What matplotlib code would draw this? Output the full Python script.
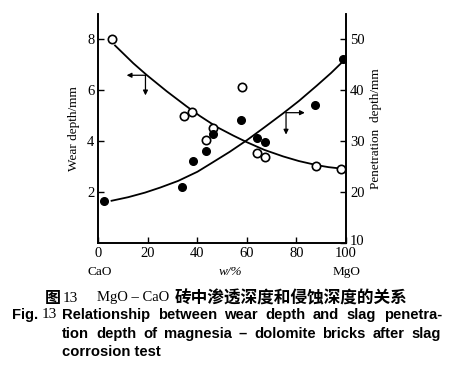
import matplotlib
matplotlib.use("Agg")
import matplotlib.pyplot as plt
import matplotlib.transforms as mtransforms

# ---- data ----
x_ticks = [0, 20, 40, 60, 80, 100]
wear_ticks = [2, 4, 6, 8]
pen_ticks = [10, 20, 30, 40, 50]

# open circles: wear depth (left axis)
wear_x = [5.3, 34.4, 37.9, 43.4, 46.1, 57.9, 63.9, 67.3, 87.8, 98.0]
wear_y = [8.0, 4.99, 5.13, 4.04, 4.52, 6.13, 3.54, 3.37, 3.02, 2.90]
# trend curve (left axis)
wear_curve_x = [6.7, 14.1, 19.5, 27.6, 35.6, 41, 47.8, 54.5, 60, 67, 74.7, 81, 88.2, 93, 97.6]
wear_curve_y = [7.76, 7.06, 6.60, 5.96, 5.37, 4.99, 4.56, 4.22, 3.96, 3.66, 3.40, 3.22, 3.06, 2.98, 2.93]

# filled circles: penetration depth (right axis)
pen_x = [2.4, 33.6, 38.1, 43.4, 46.4, 57.7, 64.2, 67.4, 87.5, 98.9]
pen_y = [18.3, 21.1, 26.1, 28.1, 31.4, 34.1, 30.7, 29.8, 37.1, 46.1]
pen_curve_x = [5.3, 12, 18.8, 25, 32.2, 40, 45.7, 53, 60, 67, 74.7, 81, 88.2, 94, 99.3]
pen_curve_y = [18.3, 19.0, 19.9, 20.9, 22.2, 24.0, 25.7, 27.9, 30.2, 32.7, 35.5, 37.9, 40.9, 43.4, 45.9]

serif = "Liberation Serif"
sans = "Liberation Sans"
cjk = ["Noto Sans CJK SC", "DejaVu Sans"]

W, H = 460, 366
fig = plt.figure(figsize=(4.6, 3.66), dpi=100)
ax = fig.add_axes([0.214, 0.336, 0.538, 0.626])
ax2 = ax.twinx()

ax.set_xlim(0, 100)
ax.set_ylim(0, 9)
ax2.set_ylim(10, 55)

ax.plot(wear_curve_x, wear_curve_y, color="black", lw=1.3, zorder=2)
ax.plot(wear_x, wear_y, "o", mfc="white", mec="black", mew=1.2, ms=6, zorder=3)
ax2.plot(pen_curve_x, pen_curve_y, color="black", lw=1.3, zorder=2)
ax2.plot(pen_x, pen_y, "o", color="black", ms=5.5, zorder=3)

# arrows
ak = dict(arrowstyle="-|>", color="black", lw=0.9, mutation_scale=7, shrinkA=0, shrinkB=0)
ax.annotate("", xy=(11.4, 6.59), xytext=(19, 6.59), arrowprops=ak)
ax.annotate("", xy=(19, 5.8), xytext=(19, 6.59), arrowprops=ak)
ax2.annotate("", xy=(83.4, 35.6), xytext=(75.8, 35.6), arrowprops=ak)
ax2.annotate("", xy=(75.8, 31.3), xytext=(75.8, 35.6), arrowprops=ak)

for a in (ax, ax2):
    a.spines["top"].set_visible(False)
    for s in a.spines.values():
        s.set_linewidth(1.2)

ax.set_xticks(x_ticks)
ax.set_yticks(wear_ticks)
ax2.set_yticks(pen_ticks)
ax.tick_params(axis="both", direction="in", length=4, width=1, labelsize=10.5, pad=3)
ax2.tick_params(axis="y", direction="in", length=4, width=1, labelsize=10.5, pad=3)
for lab in ax.get_xticklabels() + ax.get_yticklabels() + ax2.get_yticklabels():
    lab.set_fontfamily(serif)
# nudge the bottom right "10" upward a little so it clears "100"
lab10 = ax2.get_yticklabels()[0]
lab10.set_transform(lab10.get_transform() + mtransforms.ScaledTranslation(0, 3 / 100, fig.dpi_scale_trans))

ax.set_ylabel("Wear depth/mm", fontfamily=serif, fontsize=9.5, labelpad=5)
ax2.set_ylabel("Penetration  depth/mm", fontfamily=serif, fontsize=9.5, labelpad=4)

# x-axis labels under ticks
fig.text(100 / W, 1 - 272 / H, "CaO", ha="center", va="center", fontfamily=serif, fontsize=9.5)
fig.text(230 / W, 1 - 272 / H, "w/%", ha="center", va="center", fontfamily=serif, fontsize=9.5, style="italic")
fig.text(347 / W, 1 - 272 / H, "MgO", ha="center", va="center", fontfamily=serif, fontsize=9.5)

# Chinese caption
yc = 1 - 298 / H
fig.text(45 / W, yc, "图", ha="left", va="center", family=cjk, fontsize=11.5, fontweight="black")
fig.text(63 / W, yc, "13", ha="left", va="center", fontfamily=serif, fontsize=11)
fig.text(97 / W, yc, "MgO – CaO", ha="left", va="center", fontfamily=serif, fontsize=10.5)
fig.text(175 / W, yc, "砖中渗透深度和侵蚀深度的关系", ha="left", va="center", family=cjk,
         fontsize=12, fontweight="bold")

# English caption (justified lines)
renderer = fig.canvas.get_renderer()
CAP = dict(fontfamily=sans, fontsize=10.6, fontweight="bold")


def justify(words, x0, x1, ypx):
    arts = [fig.text(0, 1 - ypx / H, w, ha="left", va="center", **CAP) for w in words]
    widths = [a.get_window_extent(renderer).width for a in arts]
    gap = (x1 - x0 - sum(widths)) / max(len(words) - 1, 1)
    x = x0
    for a, wdt in zip(arts, widths):
        a.set_x(x / W)
        x += wdt + gap


fig.text(12 / W, 1 - 315 / H, "Fig.", ha="left", va="center", **CAP)
fig.text(42 / W, 1 - 315 / H, "13", ha="left", va="center", fontfamily=serif, fontsize=11)
justify("Relationship between wear depth and slag penetra-".split(), 62, 442, 315)
justify("tion depth of magnesia – dolomite bricks after slag".split(), 62, 441, 334)
fig.text(62 / W, 1 - 352 / H, "corrosion test", ha="left", va="center", **CAP)

fig.savefig("out.png", dpi=100)
